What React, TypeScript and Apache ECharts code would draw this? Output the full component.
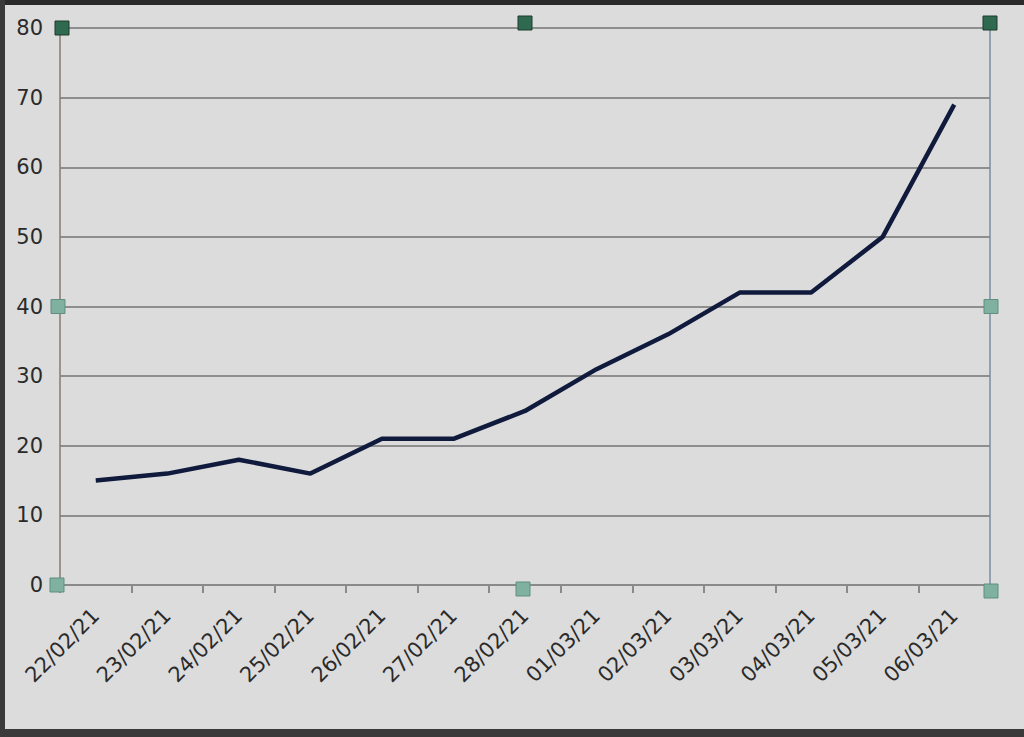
import React, { useEffect, useRef } from "react";
import * as echarts from "echarts";

const categories = [
  "22/02/21", "23/02/21", "24/02/21", "25/02/21", "26/02/21", "27/02/21", "28/02/21",
  "01/03/21", "02/03/21", "03/03/21", "04/03/21", "05/03/21", "06/03/21",
];
const values = [15, 16, 18, 16, 21, 21, 25, 31, 36, 42, 42, 50, 69];
const yTicks = { min: 0, max: 80, interval: 10 };

const GRID = { left: 60, right: 34, top: 28, bottom: 152 };

export default function App() {
  const ref = useRef<HTMLDivElement>(null);
  useEffect(() => {
    if (!ref.current) return;
    const chart = echarts.init(ref.current, undefined, { renderer: "svg" });
    const W = 1024, H = 737;
    const x0 = GRID.left, x1 = W - GRID.right, y0 = GRID.top, y1 = H - GRID.bottom;
    const xm = (x0 + x1) / 2, ym = (y0 + y1) / 2;
    const handle = (cx: number, cy: number, dark: boolean) => ({
      type: "rect",
      shape: { x: cx - 7, y: cy - 7, width: 14, height: 14 },
      style: { fill: dark ? "#2f6a50" : "#7fb0a0", stroke: dark ? "#1c3a2c" : "#5f8f80", lineWidth: 1 },
      z: 100,
    });
    chart.setOption({
      animation: false,
      backgroundColor: "#dcdcdc",
      grid: { ...GRID, containLabel: false },
      xAxis: {
        type: "category",
        data: categories,
        boundaryGap: true,
        axisLine: { show: true, lineStyle: { color: "#8a8a8a", width: 2 } },
        axisTick: { show: true, length: 8, lineStyle: { color: "#8a8a8a", width: 2 } },
        axisLabel: {
          rotate: 45,
          color: "#2a2a2a",
          fontSize: 21,
          fontFamily: "DejaVu Sans",
          margin: 27,
          interval: 0,
        },
        splitLine: { show: false },
      },
      yAxis: {
        type: "value",
        min: yTicks.min,
        max: yTicks.max,
        interval: yTicks.interval,
        axisLine: { show: true, lineStyle: { color: "#8a7a70", width: 1.5 } },
        axisTick: { show: false },
        axisLabel: { color: "#2a2a2a", fontSize: 21, fontFamily: "DejaVu Sans", margin: 17 },
        splitLine: { show: true, lineStyle: { color: "#8e8e8e", width: 2 } },
      },
      series: [
        {
          type: "line",
          data: values,
          symbol: "none",
          lineStyle: { color: "#0f1a3c", width: 4.5 },
        },
      ],
      graphic: [
        { type: "line", shape: { x1: x1, y1: y0, x2: x1, y2: y1 }, style: { stroke: "#7a8ea0", lineWidth: 1.5 }, z: 90 },
        { type: "rect", shape: { x: 0, y: 0, width: W, height: 5 }, style: { fill: "#2a2a2a" }, z: 80 },
        { type: "rect", shape: { x: 0, y: H - 8, width: W, height: 8 }, style: { fill: "#3a3a3a" }, z: 80 },
        { type: "rect", shape: { x: 0, y: 0, width: 5, height: H }, style: { fill: "#3a3a3a" }, z: 80 },
        handle(x0 + 2, y0, true),
        handle(xm, y0 - 5, true),
        handle(x1, y0 - 5, true),
        handle(x0 - 2, ym, false),
        handle(x1 + 1, ym, false),
        handle(x0 - 3, y1, false),
        handle(xm - 2, y1 + 4, false),
        handle(x1 + 1, y1 + 6, false),
      ],
    });
    return () => chart.dispose();
  }, []);
  return (
    <div
      ref={ref}
      style={{ position: "fixed", left: 0, top: 0, width: 1024, height: 737 }}
    />
  );
}
